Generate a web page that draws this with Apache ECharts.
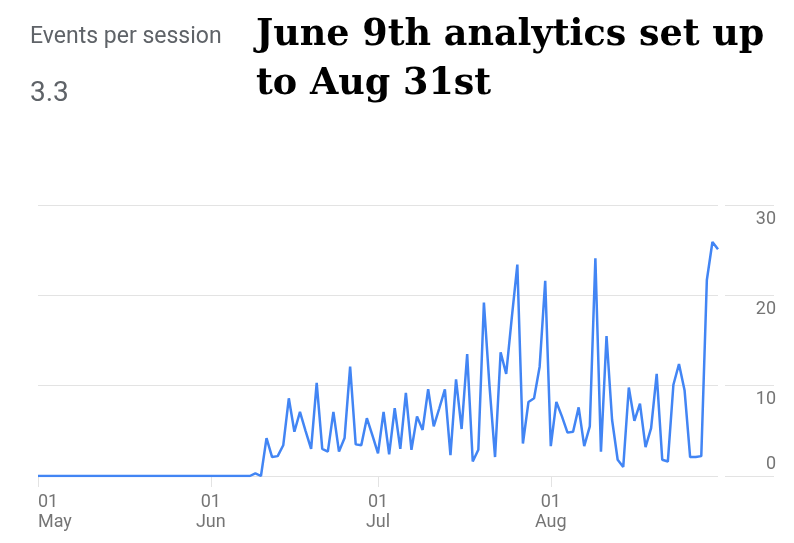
<!DOCTYPE html>
<html>
<head>
<meta charset="utf-8">
<script src="https://cdn.jsdelivr.net/npm/echarts@6/dist/echarts.min.js"></script>
<style>html,body{margin:0;padding:0;background:#fff;}#c{width:794px;height:543px;}</style>
</head>
<body>
<div id="c"></div>
<script>
// ---- data ----
const metricName = 'Events per session';
const metricValue = '3.3';
const noteTitle = 'June 9th analytics set up\nto Aug 31st';
const startDate = [2023, 4, 1]; // May 1
const dayCount = 123;           // May 1 .. Aug 31
const monthNames = ['Jan','Feb','Mar','Apr','May','Jun','Jul','Aug','Sep','Oct','Nov','Dec'];
const yTicks = [0, 10, 20, 30];
// daily values, May 1 - Jun 8 zero
const zerosBefore = [0,0,0,0,0,0,0,0,0,0,0,0,0,0,0,0,0,0,0,0,0,0,0,0,0,0,0,0,0,0,0,0,0,0,0,0,0,0,0];
const valuesJun9on = [
  0.3, 0, 4.2, 2.1, 2.2, 3.4, 8.6, 4.9, 7.1, 5.0, 3.0, 10.3, 3.0, 2.7, 7.1, 2.7, 4.2, 12.1, 3.5, 3.4,
  6.4, 4.5, 2.5, 7.1, 2.4, 7.5, 3.0, 9.2, 2.9, 6.6, 5.1, 9.6, 5.5, 7.5, 9.6, 2.3, 10.7, 5.2, 13.5, 1.6,
  2.9, 19.2, 10.0, 2.1, 13.7, 11.3, 17.5, 23.4, 3.6, 8.2, 8.6, 12.1, 21.6, 3.3, 8.2, 6.6, 4.8, 4.9, 7.6, 3.3,
  5.5, 24.1, 2.7, 15.5, 6.2, 1.8, 1.0, 9.8, 6.1, 8.0, 3.2, 5.3, 11.3, 1.8, 1.6, 10.1, 12.4, 9.5, 2.1, 2.1,
  2.2, 21.7, 25.9, 25.1
];
const seriesValues = zerosBefore.concat(valuesJun9on);

// categories (dates)
const categories = [];
for (let i = 0; i < dayCount; i++) {
  const d = new Date(startDate[0], startDate[1], startDate[2] + i);
  categories.push(d.getMonth() + '-' + String(d.getDate()).padStart(2, '0'));
}

const chart = echarts.init(document.getElementById('c'));
const gridColor = '#e3e3e3';
const labelColor = '#757575';
const isMonthStart = (i, v) => v.endsWith('-01');

chart.setOption({
  animation: false,
  backgroundColor: '#fff',
  title: [
    { text: metricName, left: 30, top: 26, padding: 0,
      textStyle: { fontFamily: 'Roboto', fontSize: 23, fontWeight: 'normal', color: '#5f6368' } },
    { text: metricValue, left: 30, top: 80, padding: 0,
      textStyle: { fontFamily: 'Roboto', fontSize: 28, fontWeight: 'normal', color: '#5f6368' } },
    { text: noteTitle, left: 256, top: 11, padding: 0,
      textStyle: { fontFamily: 'DejaVu Serif', fontSize: 36.5, fontWeight: 'bold', color: '#000', lineHeight: 49 } }
  ],
  grid: [
    { left: 38, right: 76, top: 205, bottom: 67 },
    { left: 725, right: 20, top: 205, bottom: 67 }
  ],
  xAxis: [
    { gridIndex: 0, type: 'category', data: categories, boundaryGap: false,
      axisLine: { show: false },
      axisTick: { show: true, length: 11, interval: isMonthStart, lineStyle: { color: gridColor } },
      axisLabel: { interval: isMonthStart, color: labelColor, fontFamily: 'Roboto', fontSize: 18,
        lineHeight: 20, margin: 16, alignMinLabel: 'left',
        formatter: v => { const p = v.split('-'); return p[1] + '\n' + monthNames[+p[0]]; } },
      splitLine: { show: false } },
    { gridIndex: 1, type: 'category', data: ['a','b'], show: false }
  ],
  yAxis: [
    { gridIndex: 0, type: 'value', min: 0, max: 30, interval: 10,
      axisLine: { show: false }, axisTick: { show: false }, axisLabel: { show: false },
      splitLine: { lineStyle: { color: gridColor, width: 1 } } },
    { gridIndex: 1, type: 'value', min: 0, max: 30, interval: 10, position: 'right',
      axisLine: { show: false }, axisTick: { show: false },
      axisLabel: { inside: true, margin: -2, color: labelColor, fontFamily: 'Roboto', fontSize: 18,
        verticalAlign: 'top', padding: [5, 0, 0, 0],
        formatter: v => (v === yTicks[0] ? '' : String(v)) },
      splitLine: { lineStyle: { color: gridColor, width: 1 } } },
    { gridIndex: 1, type: 'value', min: 0, max: 30, interval: 10, position: 'right',
      axisLine: { show: false }, axisTick: { show: false }, splitLine: { show: false },
      axisLabel: { inside: true, margin: -2, color: labelColor, fontFamily: 'Roboto', fontSize: 18,
        verticalAlign: 'bottom', padding: [0, 0, 3, 0],
        formatter: v => (v === yTicks[0] ? String(v) : '') } }
  ],
  series: [
    { type: 'line', xAxisIndex: 0, yAxisIndex: 0, data: seriesValues, showSymbol: false,
      lineStyle: { color: '#4285f4', width: 2.5 }, itemStyle: { color: '#4285f4' } }
  ]
});
</script>
</body>
</html>
